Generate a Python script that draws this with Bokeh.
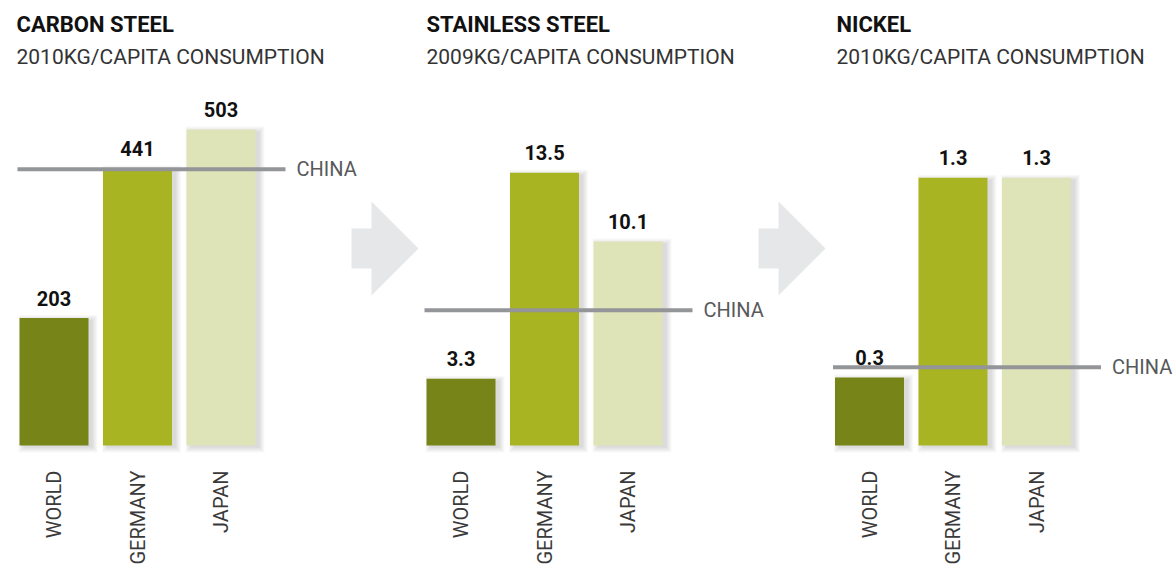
import math
from bokeh.plotting import figure
from bokeh.layouts import row
from bokeh.models import Range1d
from bokeh.core.properties import value
from bokeh.embed import file_html
from bokeh.resources import INLINE

# ---------------- data ----------------
categories = ["WORLD", "GERMANY", "JAPAN"]
panel_titles = ["CARBON STEEL", "STAINLESS STEEL", "NICKEL"]
panel_subtitles = ["2010KG/CAPITA CONSUMPTION", "2009KG/CAPITA CONSUMPTION", "2010KG/CAPITA CONSUMPTION"]
carbon_steel = [203, 441, 503]
stainless_steel = [3.3, 13.5, 10.1]
nickel = [0.33, 1.3, 1.3]
china = [440, 6.7, 0.38]
china_label = "CHINA"
value_formats = ["{:.0f}", "{:.1f}", "{:.1f}"]

# ---------------- style ----------------
series = [carbon_steel, stainless_steel, nickel]
bar_colors = ["#768418", "#a9b422", "#dfe3b8"]
H = 567
widths = [418, 410, 348]
px_per_unit = [0.628, 20.2, 206.0]
first_center_px = [53.5, 42.5, 41.0]
title_x_px = [16, 8, 8]
arrow_x_px = [351, 340]
cat_px = 83.5
base_px = 122  # baseline distance from bottom of figure
bar_w = 69 / cat_px
FONT = "Roboto"

figs = []
for i in range(3):
    W = widths[i]
    s = px_per_unit[i]
    x0 = -first_center_px[i] / cat_px
    x1 = x0 + W / cat_px
    y0 = -base_px / s
    y1 = (H - base_px) / s
    p = figure(width=W, height=H, x_range=Range1d(x0, x1), y_range=Range1d(y0, y1),
               output_backend="svg", toolbar_location=None, min_border=0,
               x_axis_location=None, y_axis_location=None, outline_line_color=None,
               background_fill_color="white", border_fill_color="white")
    p.grid.visible = False

    def px_x(px):
        return x0 + px / cat_px

    def px_y(py_top):
        return (H - base_px - py_top) / s

    xs = list(range(len(categories)))
    vals = series[i]

    # soft shadow
    for k in range(6):
        p.vbar(x=[x + 4 / cat_px for x in xs], width=bar_w + 2 * k / cat_px,
               top=[v - 2 / s + k / s for v in vals], bottom=-(2 + k) / s,
               fill_color="#000000", fill_alpha=0.022, line_color=None)

    p.vbar(x=xs, top=vals, bottom=0, width=bar_w, fill_color=bar_colors, line_color=None)

    # china reference line
    lx0 = -bar_w / 2 - 2 / cat_px
    lx1 = 2 + bar_w / 2 + 30 / cat_px
    p.segment(x0=[lx0], y0=[china[i]], x1=[lx1], y1=[china[i]],
              line_color="#939598", line_width=4)
    p.text(x=[lx1], y=[china[i]], text=[china_label], x_offset=11,
           text_baseline="middle", text_align="left", text_font=value(FONT),
           text_font_size="20px", text_color="#58595b")

    # value labels
    p.text(x=xs, y=vals, text=[value_formats[i].format(v) for v in vals],
           y_offset=-20, text_align="center", text_baseline="middle",
           text_font=value(FONT), text_font_style="bold", text_font_size="20px",
           text_color="#111111")

    # category labels
    p.text(x=xs, y=[0] * len(xs), text=categories, angle=math.pi / 2,
           y_offset=25, text_align="right", text_baseline="middle",
           text_font=value(FONT), text_font_size="20px", text_color="#3a3a3a")

    # arrow to next panel
    if i < 2:
        ax = arrow_x_px[i]
        ay = 248
        pts = [(ax, ay - 20), (ax + 20, ay - 20), (ax + 20, ay - 47), (ax + 67, ay),
               (ax + 20, ay + 47), (ax + 20, ay + 20), (ax, ay + 20)]
        p.patch(x=[px_x(a) for a, b in pts], y=[px_y(b) for a, b in pts],
                fill_color="#e6e7e8", line_color=None)

    # titles
    p.text(x=[px_x(title_x_px[i])], y=[px_y(24)], text=[panel_titles[i]],
           text_align="left", text_baseline="middle", text_font=value(FONT),
           text_font_style="bold", text_font_size="22px", text_color="#111111")
    p.text(x=[px_x(title_x_px[i])], y=[px_y(56)], text=[panel_subtitles[i]],
           text_align="left", text_baseline="middle", text_font=value(FONT),
           text_font_size="21px", text_color="#333333")
    figs.append(p)

layout = row(*figs, spacing=0)
open("out.html", "w").write(file_html(layout, INLINE))
